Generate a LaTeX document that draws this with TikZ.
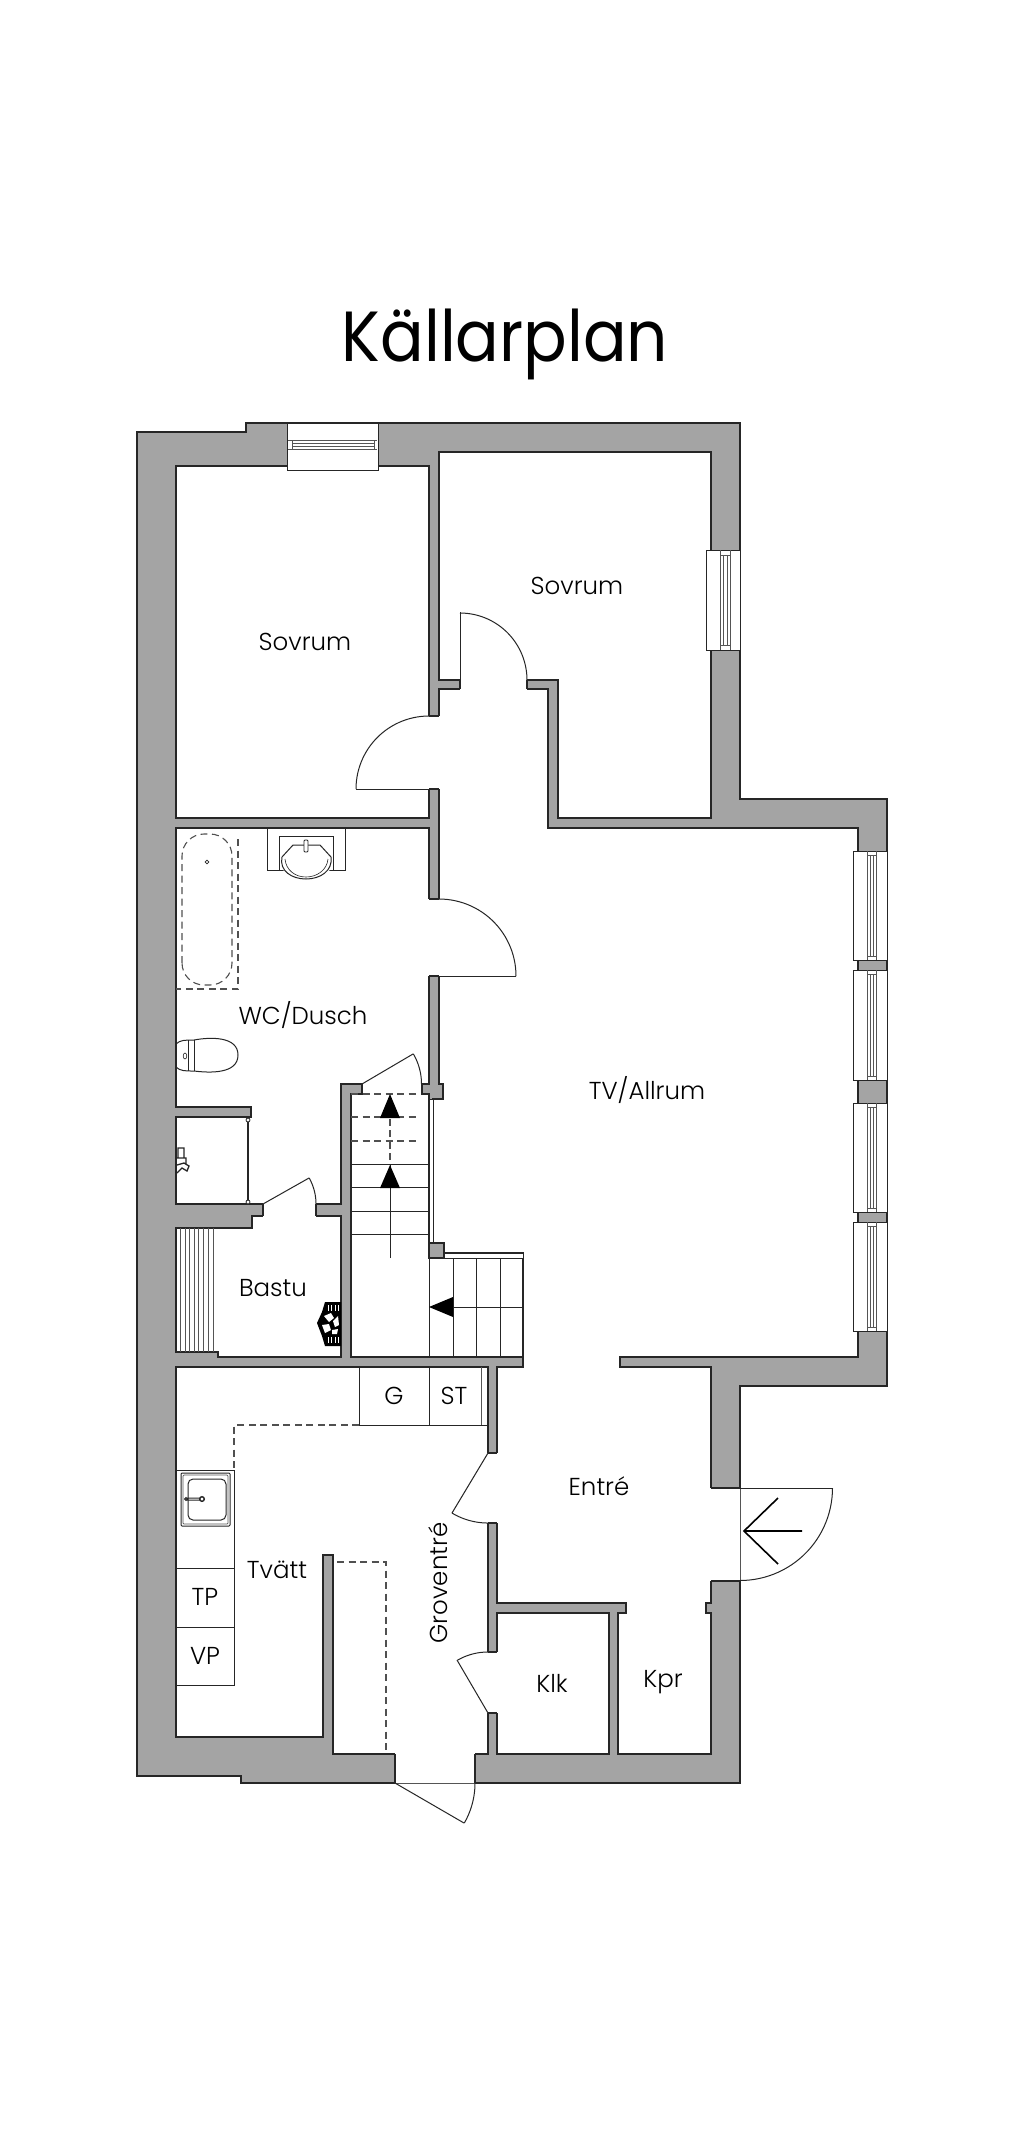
\documentclass[tikz,border=0pt]{standalone}
\usepackage{fontspec}
\setmainfont{Poppins Light}
\newfontfamily\titlefont{Poppins}
\tikzset{
  x=1pt,y=-1pt,
  wall/.style={fill=wallgray,draw=linedark,line width=1.2pt,line join=miter},
  room/.style={fill=white,draw=linedark,line width=1.2pt,line join=miter},
  thick line/.style={draw=linedark,line width=1.1pt},
  thinline/.style={draw=linedark,line width=1pt},
  hair/.style={draw=linegray,line width=0.8pt},
  dashline/.style={draw=dashgray,line width=1.1pt,dash pattern=on 7pt off 4.5pt},
  lab/.style={inner sep=0pt,font=\fontsize{24.5}{24.5}\selectfont,text=black},
  win/.style={fill=white,draw=linedark,line width=1pt},
  stepline/.style={draw=linedark,line width=1pt},
  blackfill/.style={fill=black,draw=none}
}
\definecolor{wallgray}{HTML}{A4A4A4}
\definecolor{linedark}{HTML}{262626}
\definecolor{linegray}{HTML}{555555}
\definecolor{dashgray}{HTML}{505050}
\newcommand\arcd[5]{\draw[thinline,domain=#4:#5,samples=30,variable=\t] plot ({#1+#3*cos(\t)},{#2+#3*sin(\t)});}
\newcommand\vopen[4]{\fill[white] (#1-0.9,#3) rectangle (#2+0.9,#4); \draw[thick line] (#1,#3)--(#2,#3) (#1,#4)--(#2,#4);}
\newcommand\hopen[4]{\fill[white] (#1,#3-0.9) rectangle (#2,#4+0.9); \draw[thick line] (#1,#3)--(#1,#4) (#2,#3)--(#2,#4);}
\newcommand\vwin[3]{% y1 y2 left
  \draw[win] (#3,#1) rectangle (887,#2);
  \draw[hair] (867,#1) -- (867,#2) (876,#1) -- (876,#2);
  \draw[hair,line width=0.6pt] (870,#1+4) -- (870,#2-4) (873,#1+4) -- (873,#2-4) (867,#1+4) -- (876,#1+4) (867,#2-4) -- (876,#2-4);
}
\begin{document}
\begin{tikzpicture}
\useasboundingbox (0,0) rectangle (1024,2134);
\fill[white] (0,0) rectangle (1024,2134);
% outer body
\draw[wall] (137,432)--(246,432)--(246,423)--(740,423)--(740,799)--(887,799)--(887,1386)--(740,1386)--(740,1783)--(241,1783)--(241,1776)--(137,1776)--cycle;
% rooms
\draw[room] (176,466) rectangle (429,818);
\draw[room] (439,452)--(711,452)--(711,818)--(558,818)--(558,680)--(439,680)--cycle;
\draw[room] (439,689)--(548,689)--(548,828)--(858,828)--(858,1357)--(620,1357)--(620,1367)--(711,1367)--(711,1603)--(706,1603)--(706,1613)--(711,1613)--(711,1754)--(618,1754)--(618,1613)--(626,1613)--(626,1603)--(497,1603)--(497,1367)--(523,1367)--(523,1253)--(444,1253)--(444,1243)--(433,1243)--(433,1099)--(443,1099)--(443,1084)--(439,1084)--cycle;
\draw[room] (497,1613) rectangle (609,1754);
\draw[room] (176,828)--(429,828)--(429,1084)--(341,1084)--(341,1204)--(176,1204)--(176,1117)--(251,1117)--(251,1107)--(176,1107)--cycle;
\draw[room] (351,1094)--(362,1094)--(362,1084)--(422,1084)--(422,1094)--(429,1094)--(429,1258)--(523,1258)--(523,1357)--(351,1357)--cycle;
\draw[room,line width=0.8pt] (429,1099) rectangle (433,1243);
\draw[room,line width=0.8pt] (444,1253) rectangle (523,1258);
\fill[wallgray,draw=linedark,line width=1.2pt] (429,1243) rectangle (444,1258);
\draw[room] (176,1228)--(252,1228)--(252,1216)--(341,1216)--(341,1357)--(218,1357)--(218,1352)--(176,1352)--cycle;
\draw[room] (176,1367)--(488,1367)--(488,1754)--(475,1754)--(475,1783)--(395,1783)--(395,1754)--(333,1754)--(333,1555)--(323,1555)--(323,1737)--(176,1737)--cycle;
% openings
\vopen{429}{439}{716}{789}
\vopen{429}{439}{899}{976}
\hopen{460}{527}{680}{689}
\fill[white] (362.8,1083) rectangle (421.2,1085.5);
\hopen{263}{316}{1204}{1216}
\vopen{488}{497}{1453}{1523}
\vopen{488}{497}{1652}{1713}
\vopen{711}{740}{1488}{1581}
\hopen{395}{475}{1754}{1783}
\draw[hair,line width=0.7pt] (740,1488)--(740,1581);
\draw[hair,line width=0.7pt] (395,1783)--(475,1783);
% windows
\draw[win] (287,423) rectangle (378,470);
\draw[hair] (288,440)--(377,440) (288,449)--(377,449);
\draw[hair,line width=0.6pt] (292,443)--(374,443) (292,446)--(374,446) (292,440)--(292,449) (374,440)--(374,449);
\draw[win] (706,550) rectangle (740,650);
\draw[hair] (720,550)--(720,650) (730,550)--(730,650);
\draw[hair,line width=0.6pt] (723,555)--(723,645) (727,555)--(727,645) (720,555)--(730,555) (720,645)--(730,645);
\vwin{851}{960}{853}
\vwin{970}{1080}{853}
\vwin{1103}{1212}{853}
\vwin{1222}{1331}{853}
% doors
\draw[thinline] (460,680)--(460,612);
\arcd{460}{680}{67}{-90}{0}
\draw[thinline] (429,789)--(356,789);
\arcd{429}{789}{73}{180}{270}
\draw[thinline] (516,976)--(429,976);
\arcd{439}{976}{77}{-90}{0}
\draw[thinline] (362,1084)--(413,1054);
\arcd{362}{1084}{59.5}{-30.5}{0}
\draw[thinline] (263,1204)--(309,1178);
\arcd{263}{1204}{53}{-29.5}{0}
\draw[thinline] (488,1453)--(452,1513);
\arcd{488}{1453}{70}{90}{121}
\draw[thinline] (488,1713)--(457,1660);
\arcd{488}{1713}{61}{-120}{-90}
\draw[thinline] (711,1488)--(832,1488);
\arcd{740}{1488}{92.5}{0}{90}
\draw[thinline] (395,1783)--(464,1823);
\arcd{395}{1783}{80}{0}{30}
\draw[black,line width=1.6pt] (778,1498)--(744,1531)--(778,1564) (744,1531)--(802,1531);
% stairs
\draw[stepline] (351,1164)--(429,1164) (351,1187.5)--(429,1187.5) (351,1211)--(429,1211) (351,1234)--(429,1234);
\draw[dashline] (351,1094)--(420,1094) (351,1117)--(420,1117) (351,1141)--(420,1141);
\draw[stepline] (390,1258)--(390,1165);
\draw[dashline] (390,1160)--(390,1094);
\fill[blackfill] (390,1094)--(400,1118)--(380,1118)--cycle;
\fill[blackfill] (390,1165)--(400,1188)--(380,1188)--cycle;
\draw[stepline] (453,1258)--(453,1357) (476,1258)--(476,1357) (500,1258)--(500,1357) (429,1258)--(429,1357) (453,1307)--(523,1307);
\fill[blackfill] (429,1307)--(453,1297)--(453,1317)--cycle;
% shower cubicle
\draw[line width=1.1pt,linedark] (248,1120)--(248,1202);
\filldraw[fill=white,draw=linedark,line width=0.8pt] (248,1120) circle (2) (248,1202) circle (2);
\draw[linedark,line width=1.3pt] (178,1148) rectangle (184,1158) (177,1158)--(186,1158)--(186,1164) (177,1165)--(184,1163)--(189,1166)--(187,1171)--(182,1168)--(177,1173);
% bench
\foreach \bx in {180,185,189,194,198,203,208,213}{\draw[hair,line width=0.8pt] (\bx,1228)--(\bx,1352);}
% heater
\fill[black] (341,1302)--(325,1302)--(322,1312)--(317,1323)--(322,1336)--(325,1346)--(341,1346)--cycle;
\foreach \hx in {328,331.5,335,338.5}{\draw[white,line width=1pt] (\hx,1305)--(\hx,1311) (\hx,1337)--(\hx,1343);}
\fill[white] (324,1316)--(331,1313)--(334,1318)--(329,1322)--cycle (333,1321)--(338,1316)--(339,1325)--(335,1327)--cycle (322,1325)--(329,1324)--(331,1330)--(325,1333)--cycle (332,1330)--(338,1329)--(337,1334)--(332,1334)--cycle;
% tub
\draw[dashline] (238,839)--(238,989)--(176,989);
\draw[dashline,rounded corners=22pt] (182,985) rectangle (232,834);
\draw[linedark,line width=0.7pt] (207,862) circle (1.8);
% wash basin
\draw[stepline] (267,828)--(267,870)--(345,870)--(345,828);
\draw[thinline] (279,870)--(279,836)--(333,836)--(333,870);
\fill[white] (283,858)--(293,845)--(320,845)--(330,858)--(330,870)--(315,879)--(297,879)--(283,870)--cycle;
\draw[thinline] (293,845)--(320,845)--(331,857) .. controls (333,871) and (320,879) .. (306,879) .. controls (292,879) and (279,871) .. (282,857)--cycle;
\draw[thinline,line width=0.6pt] (285,859) .. controls (286,870) and (295,877) .. (306,877) .. controls (317,877) and (327,870) .. (328,859);
\filldraw[fill=white,draw=linedark,line width=0.8pt,rounded corners=1pt] (304,840) rectangle (308,852);
% toilet
\draw[thinline,line width=1pt] (176,1044) .. controls (180,1040) and (185,1040) .. (194,1040) .. controls (210,1037) and (238,1036) .. (238,1055) .. controls (238,1074) and (210,1073) .. (194,1071) .. controls (185,1071) and (180,1071) .. (176,1067);
\draw[thinline] (188,1040)--(188,1071) (194,1040)--(194,1071);
\draw[thinline,line width=0.6pt] (185,1056) ellipse (1.8 and 3);
% counters
\draw[stepline] (359,1367)--(359,1425)--(488,1425) (429,1367)--(429,1425);
\draw[hair] (481,1367)--(481,1425);
\draw[dashline] (359,1425)--(234,1425)--(234,1470);
\draw[stepline] (176,1470)--(234,1470)--(234,1685)--(176,1685) (176,1568)--(234,1568) (176,1627)--(234,1627);
\draw[dashline] (337,1562)--(386,1562)--(386,1754);
% kitchen sink
\draw[thinline,line width=1pt,rounded corners=1pt] (181,1473) rectangle (230,1526);
\draw[hair,line width=0.7pt,rounded corners=1pt] (183,1475) rectangle (228,1524);
\draw[thinline,rounded corners=5pt] (188,1479) rectangle (226,1520);
\draw[linedark,line width=1.4pt] (202,1499) circle (2.3);
\draw[linedark,line width=1pt] (186,1498)--(200,1498) (186,1500)--(200,1500) (186,1499) circle (1.4);
% labels
\node[inner sep=0pt,anchor=base,xscale=0.91,font=\titlefont\fontsize{71}{71}\selectfont] (title) at (505,361) {Källarplan};
\node[lab] (sov1) at (305,642) {Sovrum};
\node[lab] (sov2) at (577,586) {Sovrum};
\node[lab] (wc) at (303,1015) {WC/Dusch};
\node[lab] (tv) at (647,1090) {TV/Allrum};
\node[lab] (bastu) at (273,1288) {Bastu};
\node[lab] (g) at (394,1396) {G};
\node[lab] (st) at (454,1396) {ST};
\node[lab] (tvatt) at (277,1570) {Tvätt};
\node[lab] (tp) at (205,1597) {TP};
\node[lab] (vp) at (205,1656) {VP};
\node[lab,rotate=90] (gro) at (438,1583) {Groventré};
\node[lab] (entre) at (599,1486) {Entré};
\node[lab] (klk) at (552,1683) {Klk};
\node[lab] (kpr) at (663,1682) {Kpr};
\end{tikzpicture}
\end{document}
